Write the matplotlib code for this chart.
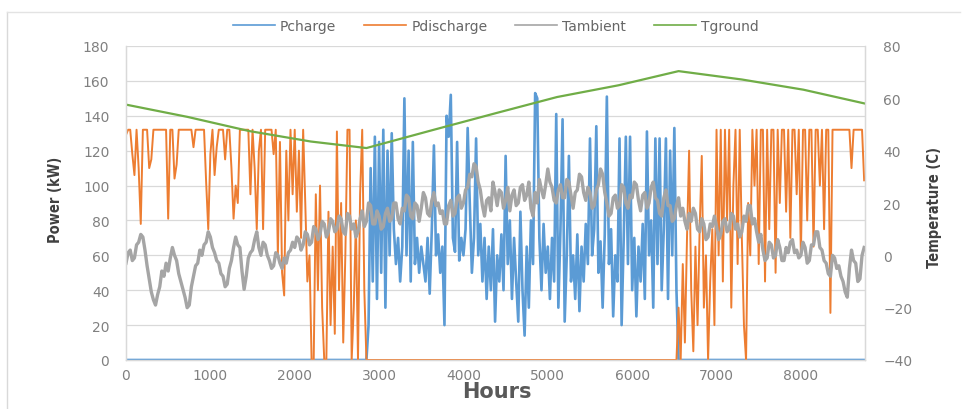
import numpy as np
import matplotlib
matplotlib.use('Agg')
import matplotlib.pyplot as plt
from matplotlib.lines import Line2D
from matplotlib import font_manager as fm

# ---------------- data ----------------
hours = np.arange(0, 8760, 25)          # sample hours, 351 points (0 ... 8750)

# Pcharge (kW): zero until ~2850 h and after ~6550 h
pcharge_mid = [20, 110, 45, 128, 35, 125, 50, 132, 30, 120,
               60, 130, 75, 55, 70, 45, 65, 150, 60, 120,
               45, 125, 55, 70, 50, 65, 55,
               45, 70, 38, 75, 123, 60, 72, 50, 65, 20,
               140, 128, 152, 70, 62, 125, 57, 70, 60, 75,
               133, 90, 50, 70, 127, 60, 78, 45, 70, 35,
               65, 40, 75, 22, 60, 45, 72, 40, 117, 55,
               80, 35, 70, 45, 22, 85, 40, 14, 65, 30,
               80, 55, 153, 150, 70, 40, 78, 50, 65, 35,
               70, 45, 141, 30, 75, 138, 22, 60, 117, 45,
               60,
               35, 72, 28, 65, 45, 78, 55, 127, 60, 75,
               134, 50, 68, 30, 72, 151, 55, 75, 25, 60,
               45, 127, 20, 70, 128, 55, 128, 40, 70, 25,
               65, 45, 78, 35, 131, 60, 80, 30, 127, 55,
               127, 40, 75, 127, 35, 120, 60, 133, 40]
pcharge = [0] * 115 + pcharge_mid + [0] * 89

# Pdischarge (kW): capped at ~132, zero between ~2850 h and ~6550 h
pdis_start = [129, 132, 132, 118, 106, 132, 110, 78, 132, 132,
              132, 110, 115, 132, 132, 132, 132, 132, 132, 132,
              81, 132, 132, 104, 112, 132, 132, 132, 132, 132,
              132, 132, 122, 132, 132, 132, 132, 132, 102, 75,
              118, 132, 106, 122, 132, 132, 132, 115, 132, 132,
              110, 81, 100, 90, 132, 132, 132, 132, 132, 95,
              132, 110, 75, 120, 132, 75, 132, 132, 132, 132,
              118, 132, 60, 125, 50, 37, 120, 80, 132, 95,
              132, 85, 120, 70, 132, 90, 45, 60, 0, 0,
              95, 40, 100, 30, 0, 0, 85, 20, 65, 15,
              131, 40, 90, 10, 60, 132, 132, 0, 30, 80,
              0, 95, 132, 40, 0]
pdis_end = [30, 0, 55, 10, 70, 120, 40, 5, 65, 20,
            75, 117, 30, 60, 0, 45, 75, 20, 132, 60,
            132, 45, 132, 80, 132, 30, 100, 132, 55, 132,
            70, 20, 0, 90, 60, 132, 100, 132, 55, 132,
            132, 45, 132, 75, 132, 132, 50, 132, 90, 132,
            132, 85, 132, 70, 132, 132, 95, 132, 60, 132,
            132, 80, 132, 132, 65, 132, 132, 100, 132, 75,
            132, 132, 27, 132, 132, 132, 132, 132, 132, 132,
            132, 132, 110, 132, 132, 132, 132, 132, 103]
pdischarge = pdis_start + [0] * 147 + pdis_end

# Tambient (deg C)
tambient = [-3, 1, 2, -2, -1, 4, 5, 8, 7, 2,
            -4, -9, -14, -17, -19, -15, -12, -6, -8, -3,
            -6, -1, 3, 0, -2, -7, -10, -13, -16, -20,
            -19, -12, -8, -4, -3, 2, 0, 4, 5, 9,
            7, 3, 1, -2, -3, -7, -8, -12, -11, -5,
            -2, 3, 7, 4, 3, -6, -13, -8, -1, 1,
            2, 6, 9, 3, 0, 5, 4, 0, -2, -5,
            -4, 1, 0, -3, -5, -1, -3, 1, 2, 5,
            3, 7, 6, 2, 4, 9, 8, 4, 5, 11,
            10, 6, 8, 13, 12, 7, 9, 14, 13, 9,
            10, 15, 14, 9, 8, 16, 15, 10, 12, 7,
            9, 14, 17, 11, 13, 20, 19, 12, 12, 17,
            15, 10, 11, 16, 18, 13, 14, 20, 20, 14,
            12, 18, 17, 23, 22, 15, 14, 20, 19, 13,
            18, 24, 22, 16, 15, 21, 24, 19, 20, 16,
            17, 12, 12, 19, 21, 15, 16, 22, 23, 18,
            20, 25, 26, 31, 30, 35, 34, 28, 25, 19,
            15, 21, 22, 17, 28, 24, 19, 25, 24, 18,
            21, 26, 17, 23, 25, 19, 20, 26, 27, 21,
            23, 28, 18, 15, 24, 20, 29, 25, 22, 27,
            33, 28, 26, 21, 20, 25, 27, 22, 22, 29,
            28, 23, 18, 24, 25, 31, 30, 24, 21, 26,
            24, 18, 19, 25, 27, 33, 31, 24, 20, 15,
            16, 22, 23, 18, 19, 27, 26, 20, 18, 23,
            22, 28, 27, 21, 17, 23, 24, 18, 20, 26,
            28, 22, 21, 16, 15, 22, 25, 19, 19, 13,
            14, 19, 22, 15, 18, 13, 10, 16, 13, 18,
            16, 10, 9, 14, 12, 6, 7, 12, 11, 15,
            11, 6, 8, 13, 14, 9, 10, 16, 15, 10,
            12, 7, 9, 15, 13, 19, 19, 12, 14, 9,
            5, 8, 2, -2, -1, 5, 4, -1, 0, 6,
            3, -2, -2, 3, 1, 5, 6, 1, 2, -1,
            0, 5, 3, -3, -2, 4, 4, 9, 9, 3,
            2, -2, -3, -7, -8, 0, -1, -5, -4, -8,
            -10, -14, -16, -5, 2, -2, -3, -10, -9, 0, 3]

# Tground (deg C)
tground_hours = [0, 730, 1460, 2190, 2850, 3650, 4380, 5110, 5840, 6550, 7300, 8030, 8760]
tground = [57.6, 52.9, 47.5, 43.5, 41.0, 48.0, 54.3, 60.5, 65.0, 70.4, 67.2, 63.3, 58.0]

series_labels = ['Pcharge', 'Pdischarge', 'Tambient', 'Tground']
colors = ['#5B9BD5', '#ED7D31', '#A5A5A5', '#70AD47']
xticks = list(range(0, 8001, 1000))
power_ticks = list(range(0, 181, 20))
temp_ticks = list(range(-40, 81, 20))

n = len(hours)
for name, arr in (('pcharge', pcharge), ('pdischarge', pdischarge), ('tambient', tambient)):
    if len(arr) != n:
        raise ValueError(f'{name} has {len(arr)} values, expected {n}')

# ---------------- fonts for the axis titles (condensed if available) ----------------
installed = {f.name for f in fm.fontManager.ttflist}
if 'Liberation Sans Narrow' in installed:
    title_kw = dict(family=['Liberation Sans Narrow', 'DejaVu Sans'], fontsize=12.5)
elif any(f.name == 'DejaVu Sans' and str(f.stretch) in ('condensed', 'semi-condensed', '75', '87')
         for f in fm.fontManager.ttflist):
    title_kw = dict(family=['DejaVu Sans'], fontstretch='condensed', fontsize=10.5)
else:
    title_kw = dict(family=['Liberation Sans', 'DejaVu Sans'], fontsize=11)

# ---------------- figure ----------------
W, H = 967, 410
fig = plt.figure(figsize=(W / 100, H / 100), dpi=100)
fig.patch.set_facecolor('white')

L, R, T, B = 126, 865, 47, 361
ax = fig.add_axes([L / W, 1 - B / H, (R - L) / W, (B - T) / H])
ax2 = ax.twinx()

ax.plot(hours, pcharge, color=colors[0], lw=1.9)
ax.plot(hours, pdischarge, color=colors[1], lw=1.4)
ax2.plot(hours, tambient, color=colors[2], lw=2.4)
ax2.plot(tground_hours, tground, color=colors[3], lw=1.6)

ax.set_xlim(0, 8760)
ax.set_ylim(0, 180)
ax2.set_ylim(-40, 80)
ax.set_xticks(xticks)
ax.set_yticks(power_ticks)
ax2.set_yticks(temp_ticks)

ax.grid(axis='y', color='#D9D9D9', lw=0.9)
ax.set_axisbelow(True)

for a in (ax, ax2):
    for s in a.spines.values():
        s.set_color('#D9D9D9')
        s.set_linewidth(0.9)
    a.spines['top'].set_visible(False)
    a.tick_params(length=0, labelcolor='#808080')
ax.tick_params(axis='y', pad=12)
ax2.tick_params(axis='y', pad=13)
ax.tick_params(axis='x', pad=6)
for lab in ax.get_xticklabels() + ax.get_yticklabels() + ax2.get_yticklabels():
    lab.set_fontfamily(['DejaVu Sans'])
    lab.set_fontsize(10)

fig.text(55 / W, 1 - 200 / H, 'Power (kW)', rotation=90, ha='center', va='center',
         fontweight='bold', color='#404040', **title_kw)
fig.text(935 / W, 1 - 207 / H, 'Temperature (C)', rotation=90, ha='center', va='center',
         fontweight='bold', color='#404040', **title_kw)
fig.text(497 / W, 1 - 392 / H, 'Hours', ha='center', va='center',
         fontsize=15, fontweight='bold', color='#595959', family=['DejaVu Sans'])

handles = [Line2D([], [], color=c, lw=1.2) for c in colors]
fig.legend(handles, series_labels, loc='center', bbox_to_anchor=(496 / W, 1 - 27 / H),
           ncol=4, frameon=False, handlelength=3.0, columnspacing=2.0, handletextpad=0.4,
           prop=dict(family=['DejaVu Sans'], size=10), labelcolor='#666666')

# chart frame (as in the screenshot)
fig.add_artist(Line2D([7 / W, 7 / W], [0, 1 - 13 / H], transform=fig.transFigure,
                      color='#D9D9D9', lw=1))
fig.add_artist(Line2D([7 / W, 960 / W], [1 - 13 / H, 1 - 13 / H], transform=fig.transFigure,
                      color='#E3E3E3', lw=1))

fig.savefig('out.png', dpi=100)
